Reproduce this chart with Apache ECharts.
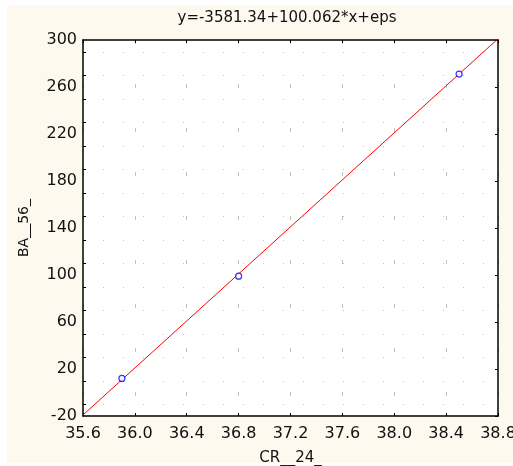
<!DOCTYPE html>
<html>
<head>
<meta charset="utf-8">
<script src="https://cdn.jsdelivr.net/npm/echarts@6/dist/echarts.min.js"></script>
<style>
  html, body { margin: 0; padding: 0; background: #ffffff; }
  #chart-container { width: 513px; height: 466px; }
</style>
</head>
<body>
<div id="chart-container"></div>
<script>
let titleText = "y=-3581.34+100.062*x+eps";
let xName = "CR__24_";
let yName = "BA__56_";

// observed points
let pointsX = [35.9, 36.8, 38.5];
let pointsY = [12, 99, 271];

// fitted line endpoints (from the equation in the title)
let fitX = [35.6, 38.8];
let fitY = [-19.13, 301.07];

// left axis tick marks sit between the labels
let yTickValues = [-10, 10, 30, 50, 70, 90, 110, 130, 150, 170, 190, 210, 230, 250, 270, 290];

let dom = document.getElementById("chart-container");
let myChart = echarts.init(dom, null, {
    renderer: "canvas",
    useDirtyRect: false,
});
let option;

let labelFont = {
    color: "#111",
    fontFamily: "DejaVu Sans",
    fontSize: 16,
    fontWeight: "normal",
};

let frameLine = { onZero: false, lineStyle: { color: "#000", width: 1.5 } };
let tickStyle = { color: "#000", width: 1 };

option = {
    backgroundColor: "#ffffff",
    animation: false,
    graphic: [{
        type: "rect",
        z: -10,
        shape: { x: 7, y: 5, width: 506, height: 458 },
        style: { fill: "#fdf9ef" },
    }],
    title: {
        text: titleText,
        left: 282,
        textAlign: "center",
        top: 6,
        textStyle: {
            color: "#111",
            fontFamily: "DejaVu Sans",
            fontSize: 15,
            fontWeight: "normal",
        },
    },
    grid: {
        left: 83,
        right: 15,
        top: 40,
        bottom: 50,
        outerBoundsMode: "none",
        containLabel: false,
        show: true,
        backgroundColor: "#ffffff",
        borderWidth: 0,
    },
    xAxis: [{
        type: "value",
        min: 35.6,
        max: 38.8,
        interval: 0.4,
        name: xName,
        nameLocation: "middle",
        nameGap: 35,
        nameTextStyle: Object.assign({}, labelFont, { fontSize: 15 }),
        axisLine: frameLine,
        axisTick: { inside: true, length: 3, lineStyle: tickStyle },
        axisLabel: Object.assign({
            margin: 10,
            formatter: (v) => v.toFixed(1),
        }, labelFont),
        splitLine: {
            show: true,
            lineStyle: { color: "#c0c0c0", type: [4, 40], width: 1 },
        },
    }, {
        type: "value",
        position: "top",
        min: 35.6,
        max: 38.8,
        interval: 0.4,
        axisLine: { show: true, onZero: false, lineStyle: { color: "#000", width: 1.5 } },
        axisTick: { show: true, inside: true, length: 3, lineStyle: tickStyle },
        axisLabel: { show: false },
        splitLine: { show: false },
    }],
    yAxis: [{
        type: "value",
        min: -20,
        max: 300,
        interval: 40,
        name: yName,
        nameLocation: "middle",
        nameGap: 52,
        nameTextStyle: Object.assign({}, labelFont, { fontSize: 14 }),
        axisLine: frameLine,
        axisTick: { inside: true, length: 3, customValues: yTickValues, lineStyle: tickStyle },
        axisLabel: Object.assign({ margin: 6 }, labelFont),
        splitLine: {
            show: true,
            lineStyle: { color: "#c0c0c0", type: [1, 19], width: 1 },
        },
    }, {
        type: "value",
        position: "right",
        min: -20,
        max: 300,
        interval: 40,
        axisLine: { show: true, onZero: false, lineStyle: { color: "#000", width: 1.5 } },
        axisTick: { show: true, inside: true, length: 3, lineStyle: tickStyle },
        axisLabel: { show: false },
        splitLine: { show: false },
    }],
    series: [
        {
            name: "fit",
            type: "line",
            data: fitX.map((x, i) => [x, fitY[i]]),
            showSymbol: false,
            clip: true,
            lineStyle: { color: "#ff0000", width: 1 },
            z: 3,
        },
        {
            name: "points",
            type: "scatter",
            data: pointsX.map((x, i) => [x, pointsY[i]]),
            symbol: "circle",
            symbolSize: 6,
            itemStyle: { color: "#ffffff", borderColor: "#0000ff", borderWidth: 1.2 },
            z: 4,
        },
    ],
};

if (option && typeof option === "object") {
    myChart.setOption(option);
}

window.addEventListener("resize", myChart.resize);
</script>
</body>
</html>
